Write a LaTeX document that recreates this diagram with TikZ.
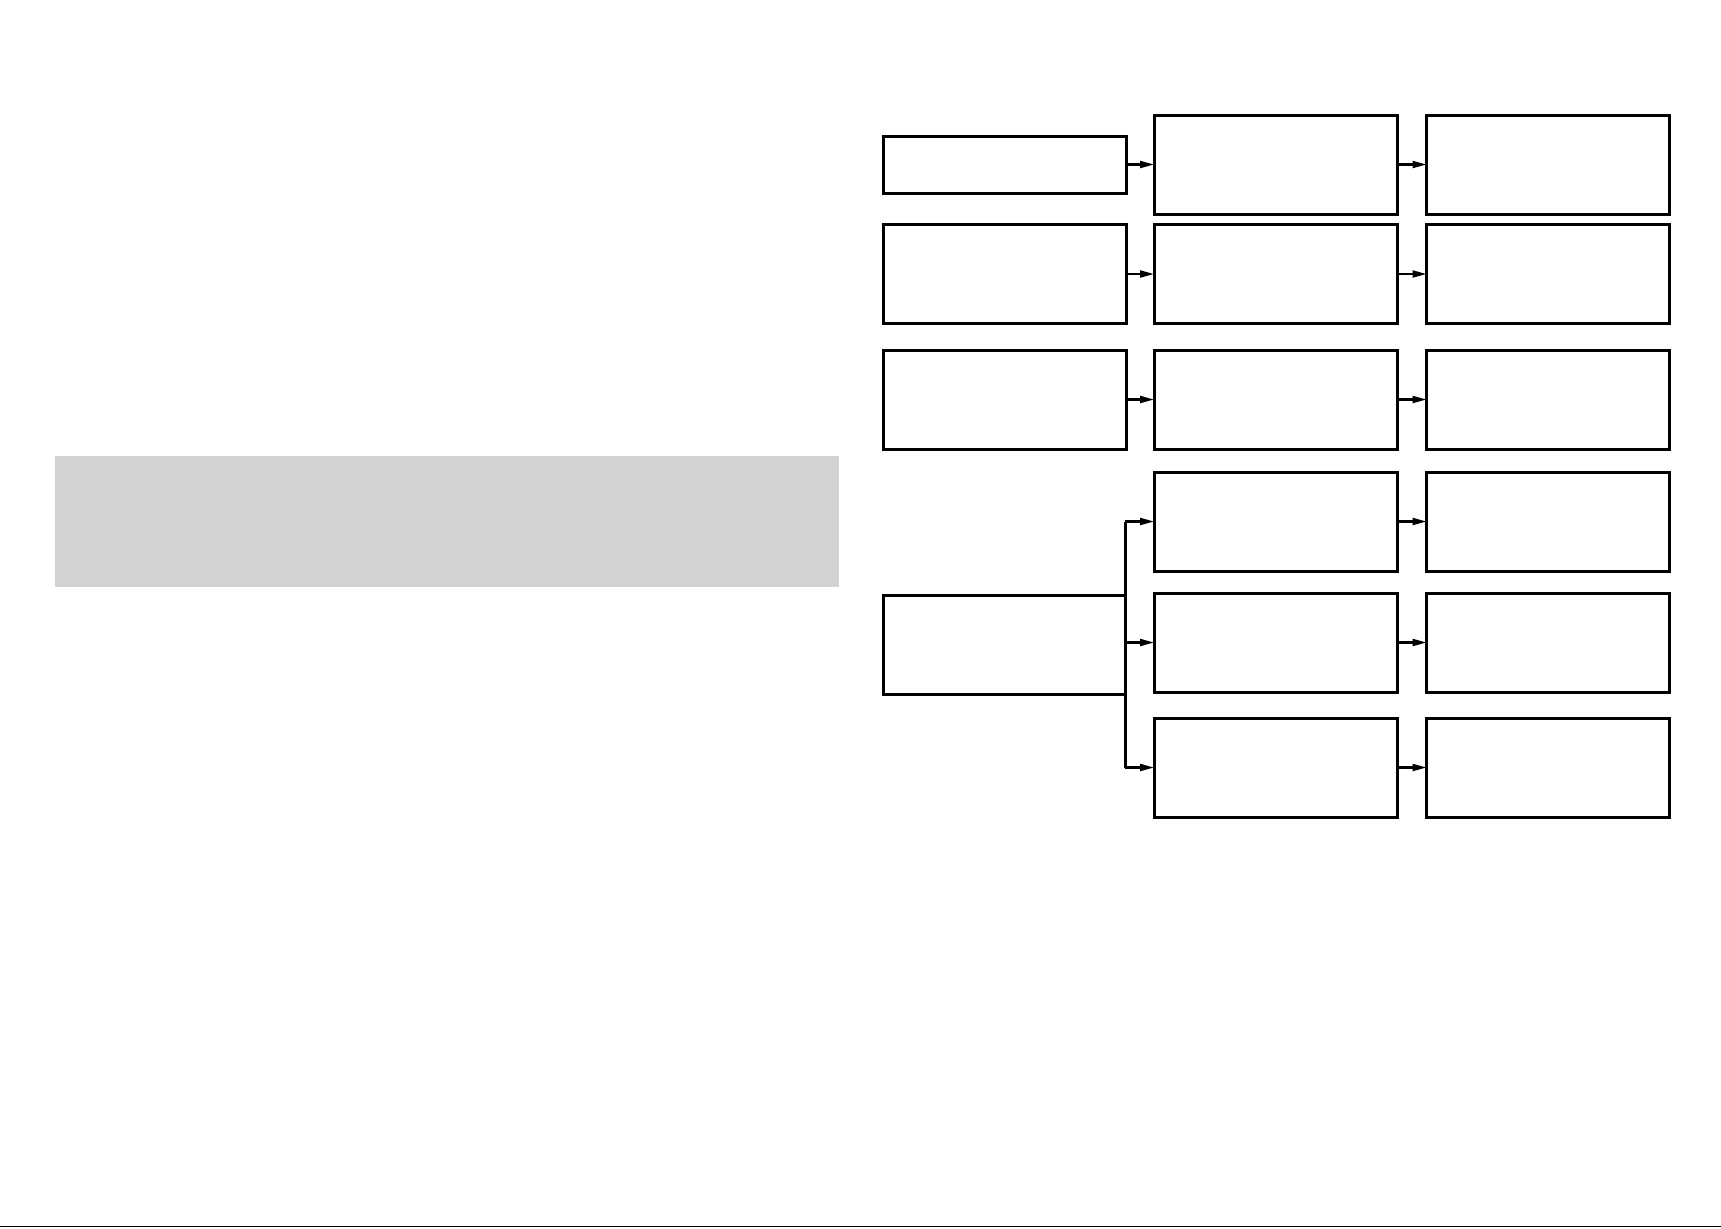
\documentclass[tikz,border=0pt]{standalone}
\usetikzlibrary{positioning,arrows.meta,calc}
\begin{document}
\begin{tikzpicture}[x=0.1mm, y=-0.1mm, line width=0.85pt,
  box/.style={draw, rectangle, minimum width=24.3mm, minimum height=9.9mm, inner sep=0pt, outer sep=0pt},
  arr/.style={-{Triangle[length=1.4mm,width=0.7mm]}, line width=0.6pt}]

\useasboundingbox (0,0) rectangle (1721,1228);

% grey panel on the left
\fill[fill={rgb,255:red,210;green,210;blue,210}] (55,456) rectangle (839,587);

% left column
\node[box, minimum height=5.7mm] (L1) at (1005,164.5) {};
\node[box] (L2) at (1005,274) {};
\node[box] (L3) at (1005,399.5) {};
\node[box, draw=none, minimum width=24.2mm] (L4) at (1004,644.5) {};

% middle and right columns
\foreach \i/\y in {1/164.5, 2/274, 3/399.5, 4/521.5, 5/642.5, 6/767.5} {
  \node[box] (M\i) at (1275.5,\y) {};
  \node[box] (R\i) at (1548,\y) {};
  \draw[arr] (M\i) -- (R\i);
}

% first three rows
\foreach \i in {1,2,3} {
  \draw[arr] (L\i.east |- M\i) -- (M\i.west);
}

% open box with the branch
\draw (L4.north east) -- (L4.north west) -- (L4.south west) -- (L4.south east);
\draw (L4.east |- M4) -- (L4.east |- M6);
\foreach \i in {4,5,6} {
  \draw[arr] (L4.east |- M\i) -- (M\i.west);
}

% rule at the foot
\draw[line width=0.5pt] (0,1226.5) -- (1721,1226.5);
\end{tikzpicture}
\end{document}
